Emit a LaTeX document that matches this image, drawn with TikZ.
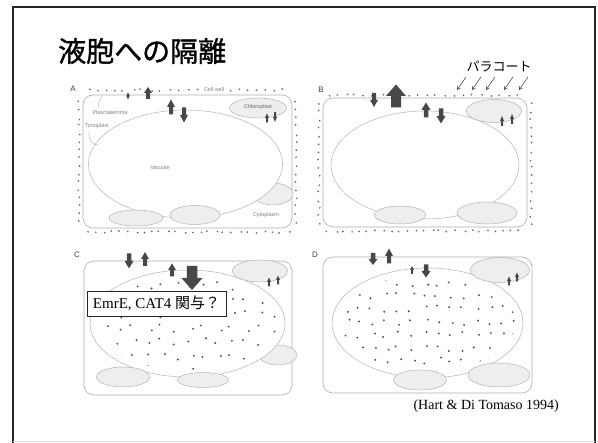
\documentclass[tikz,border=0pt]{standalone}
\usepackage{fontspec}
\setmainfont{Liberation Serif}
\setsansfont{Liberation Sans}
\newfontfamily\jpfont{Noto Sans CJK JP}
\newfontfamily\jptitle{Noto Sans CJK JP}[FakeBold=1.2]
\usetikzlibrary{arrows.meta}

\begin{document}
\begin{tikzpicture}[x=1pt,y=-1pt,
  frame/.style={draw=black!85, line width=2.4pt},
  cellbox/.style={draw=gray!65, line width=0.6pt, rounded corners=10pt},
  membrane/.style={draw=gray!60, line width=0.5pt},
  organelle/.style={draw=gray!60, fill=gray!13, line width=0.5pt},
  arrowfill/.style={fill=black!72},
  wdot/.style={fill=black!60},
  vdot/.style={fill=black!70},
  panellabel/.style={font=\sffamily\fontsize{8}{8}\selectfont, text=black!75},
  tinylabel/.style={font=\sffamily\fontsize{5.5}{6}\selectfont, text=black!50},
  leader/.style={draw=gray!65, line width=0.4pt},
  paraq/.style={draw=black!80, line width=0.5pt, -{Straight Barb[length=3pt,width=3.5pt]}},
  uparr/.pic={\path[arrowfill] (-0.25,0.5) -- (-0.25,0) -- (-0.5,0) -- (0,-0.5)
      -- (0.5,0) -- (0.25,0) -- (0.25,0.5) -- cycle;},
  spindle/.pic={\path[arrowfill] (0,-0.5) -- (0.5,0) -- (0,0.5) -- (-0.5,0) -- cycle;}
]
\useasboundingbox (0,0) rectangle (598,443);

% slide frame
\draw[frame] (13,443) -- (13,7) -- (595,7) -- (595,443);
\draw[gray!25, line width=0.8pt] (13,441) -- (595,441);

% title
\node[anchor=west, inner sep=0, font=\jptitle\fontsize{28}{30}\selectfont] (title) at (58,51) {液胞への隔離};

\pgfmathsetseed{4711}

% ---------------- panel A ----------------
\node[panellabel] (labA) at (73,89) {A};
\draw[cellbox] (83,95) rectangle (292,228);
\foreach \x in {88,97,...,196} \fill[wdot] (\x+rnd*4-2, 90+rnd*2-1) circle (0.95pt);
\foreach \x in {230,239,...,290} \fill[wdot] (\x+rnd*4-2, 90+rnd*2-1) circle (0.95pt);
\foreach \x in {88,96,...,290} \fill[wdot] (\x+rnd*4-2, 232+rnd*2-1) circle (0.95pt);
\foreach \y in {102,110,...,224} {
  \fill[wdot] (79+rnd*2-1, \y+rnd*3-1.5) circle (0.95pt);
  \fill[wdot] (296+rnd*2-1, \y+rnd*3-1.5) circle (0.95pt);
}
\draw[organelle] (273,194) ellipse (20 and 11);
\draw[membrane, fill=white] (185.5,164) ellipse (97 and 54);
\draw[organelle] (258,108) ellipse (28.5 and 10);
\draw[organelle] (136,218) ellipse (27 and 8);
\draw[organelle] (195,215) ellipse (25 and 9.5);
\pic[xscale=8, yscale=12] at (148,93) {uparr};
\pic[xscale=3.5, yscale=7] at (128,96) {spindle};
\pic[xscale=8, yscale=15] at (171,107) {uparr};
\pic[xscale=8, yscale=-15] at (184,115) {uparr};
\pic[xscale=4, yscale=9] at (267,118) {uparr};
\pic[xscale=4, yscale=-10] at (275,117) {uparr};
\node[tinylabel] (cw) at (214,90) {Cell wall};
\node[tinylabel] (plm) at (110,113) {Plasmalemma};
\node[tinylabel] (ton) at (97,126) {Tonoplast};
\node[tinylabel] (vac) at (160,168) {Vacuole};
\node[tinylabel, text=black!60] (chl) at (258,107) {Chloroplast};
\node[tinylabel] (cyt) at (266,215) {Cytoplasm};
\coordinate (plmStart) at (98,108);
\coordinate (plmEnd) at (102,96);
\coordinate (tonStart) at (89,131);
\coordinate (tonEnd) at (98,145);
\draw[leader] (plmStart) .. controls (99,102) .. (plmEnd);
\draw[leader] (tonStart) .. controls (88,140) and (93,145) .. (tonEnd);

% ---------------- panel B ----------------
\node[panellabel] (labB) at (321,90) {B};
\draw[cellbox] (323,98) rectangle (527,227);
\foreach \x in {328,337,...,525} \fill[wdot] (\x+rnd*4-2, 95+rnd*2-1) circle (0.95pt);
\foreach \x in {328,336,...,525} \fill[wdot] (\x+rnd*4-2, 231+rnd*2-1) circle (0.95pt);
\foreach \y in {104,112,...,224} {
  \fill[wdot] (319+rnd*2-1, \y+rnd*3-1.5) circle (0.95pt);
  \fill[wdot] (531+rnd*2-1, \y+rnd*3-1.5) circle (0.95pt);
}
\draw[membrane, fill=white] (425,165) ellipse (94 and 54);
\draw[organelle] (494,111) ellipse (27.5 and 11.5);
\draw[organelle] (400,215) ellipse (25.5 and 9);
\draw[organelle] (487,213) ellipse (30 and 11);
\pic[xscale=8, yscale=-14] at (374,100) {uparr};
\pic[xscale=20, yscale=23] at (396,96) {uparr};
\pic[xscale=9, yscale=15] at (426,110) {uparr};
\pic[xscale=9, yscale=-15] at (441,116) {uparr};
\pic[xscale=4, yscale=10] at (502,121) {uparr};
\pic[xscale=4, yscale=10] at (512,119) {uparr};
\node[inner sep=0, font=\jpfont\fontsize{13}{13}\selectfont] (pq) at (499,67) {パラコート};
\foreach \tx/\hx [count=\i] in {466/457, 481/472, 495/486, 513/504, 528/519} {
  \coordinate (pqT\i) at (\tx,77);
  \coordinate (pqH\i) at (\hx,90);
  \draw[paraq] (pqT\i) -- (pqH\i);
}

% ---------------- panel C ----------------
\node[panellabel] (labC) at (77,255) {C};
\draw[cellbox] (84,261) rectangle (292,395);
\draw[organelle] (278,355) ellipse (19 and 10);
\draw[membrane, fill=white] (187.5,323.5) ellipse (97.5 and 53.5);
\begin{scope}
  \clip (187.5,323.5) ellipse (90 and 47);
  \foreach \x in {92,106,...,290} \foreach \y in {272,286,...,380}
    \fill[vdot] (\x+rnd*8-4, \y+rnd*8-4) circle (1.05pt);
\end{scope}
\draw[organelle] (260,271) ellipse (27.5 and 11);
\draw[organelle] (123,377) ellipse (26.5 and 10);
\draw[organelle] (203,380) ellipse (25.5 and 7.5);
\pic[xscale=9, yscale=-15] at (129,261) {uparr};
\pic[xscale=8, yscale=14] at (145,259) {uparr};
\pic[xscale=8, yscale=13] at (172,270) {uparr};
\pic[xscale=21, yscale=-24] at (192,278) {uparr};
\pic[xscale=4, yscale=9] at (269,282) {uparr};
\pic[xscale=4, yscale=9] at (278,280) {uparr};
\node[draw=black!85, fill=white, line width=0.8pt, minimum width=139pt,
      minimum height=25pt, inner sep=0, font=\fontsize{15}{15}\selectfont]
      (emre) at (156.5,303.5) {EmrE, CAT4 {\jpfont 関与？}};

% ---------------- panel D ----------------
\node[panellabel] (labD) at (315,255) {D};
\draw[cellbox] (323,257) rectangle (532,393);
\draw[membrane, fill=white] (427.5,323) ellipse (95.5 and 55);
\begin{scope}
  \clip (427.5,323) ellipse (88 and 48);
  \foreach \x in {334,347,...,525} \foreach \y in {270,283,...,380}
    \fill[vdot] (\x+rnd*7-3.5, \y+rnd*7-3.5) circle (1.05pt);
\end{scope}
\draw[organelle] (500,270) ellipse (29.5 and 12.5);
\draw[organelle] (420,380) ellipse (26.5 and 10);
\draw[organelle] (499,375) ellipse (31 and 12);
\pic[xscale=9, yscale=-12] at (373,259) {uparr};
\pic[xscale=8, yscale=15] at (389,256) {uparr};
\pic[xscale=4, yscale=8] at (412,270) {uparr};
\pic[xscale=9, yscale=-13] at (426,271) {uparr};
\pic[xscale=4, yscale=9] at (509,281) {uparr};
\pic[xscale=4, yscale=9] at (517,277) {uparr};

% reference
\node[anchor=east, inner sep=0, font=\fontsize{14}{14}\selectfont] (ref) at (559,406) {(Hart \& Di Tomaso 1994)};
\end{tikzpicture}
\end{document}
